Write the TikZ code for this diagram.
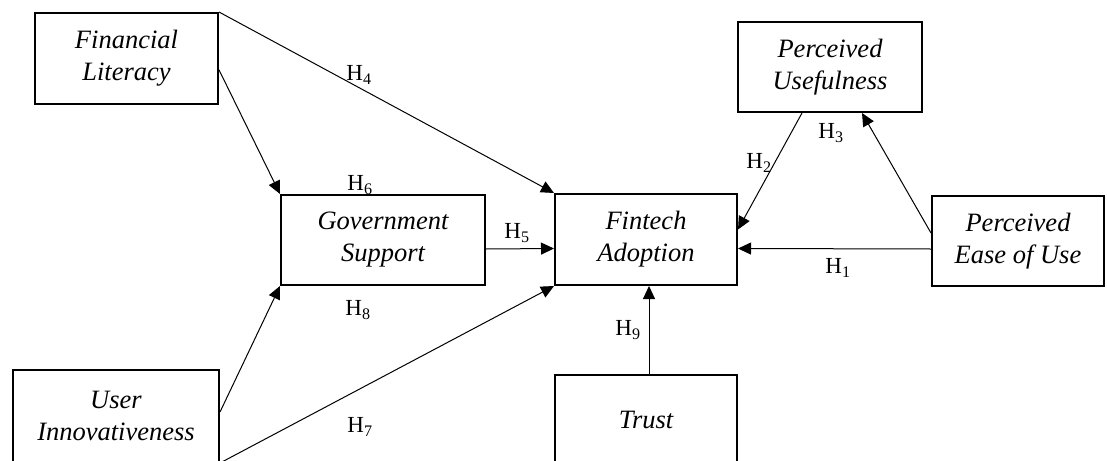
\documentclass[tikz,border=0pt]{standalone}
\usepackage{fontspec}
\setmainfont{Liberation Serif}
\usepackage{tikz}
\usetikzlibrary{positioning,arrows.meta,shapes}
\tikzset {
    style Box/.style={
        draw=black,
        line width=2pt,
        rectangle, % Set the shape as a rectangle
        align=center,
        font=\fontsize{26.5}{32}\selectfont\itshape,
        inner sep=0pt,
    },
    style Hyp/.style={
        inner sep=0pt,
        font=\fontsize{23}{26}\selectfont,
    },
    style Arrow/.style={
        line width=1pt,
        -{Triangle[length=13pt,width=12pt]},
    },
}

\begin{document}
\begin{tikzpicture}[x=1pt, y=1pt]
        \clip (0,0) rectangle (1107,-460);

        \node[style Box, minimum width=183, minimum height=91] at (126.5,-58.5) (lit) {Financial\\Literacy};
        \node[style Box, minimum width=204, minimum height=90] at (383,-240) (gov) {Government\\Support};
        \node[style Box, minimum width=182, minimum height=91] at (646,-239.5) (fin) {Fintech\\Adoption};
        \node[style Box, minimum width=184, minimum height=90] at (830,-67) (use) {Perceived\\Usefulness};
        \node[style Box, minimum width=172, minimum height=90] at (1018,-241) (ease) {Perceived\\Ease of Use};
        \node[style Box, minimum width=206, minimum height=92] at (116,-416) (inno) {User\\Innovativeness};
        \node[style Box, minimum width=182, minimum height=90] at (646,-420) (trust) {Trust};

        % hypotheses
        \node[style Hyp] at (359,-75) (h4) {H\textsubscript{4}};
        \node[style Hyp] at (360,-185) (h6) {H\textsubscript{6}};
        \node[style Hyp] at (517,-233) (h5) {H\textsubscript{5}};
        \node[style Hyp] at (358,-310) (h8) {H\textsubscript{8}};
        \node[style Hyp] at (360,-427) (h7) {H\textsubscript{7}};
        \node[style Hyp] at (628,-330) (h9) {H\textsubscript{9}};
        \node[style Hyp] at (759,-163) (h2) {H\textsubscript{2}};
        \node[style Hyp] at (831,-133) (h3) {H\textsubscript{3}};
        \node[style Hyp] at (838,-268) (h1) {H\textsubscript{1}};

        \draw[style Arrow] (lit.-7) -- (gov.north west);
        \draw[style Arrow] (lit.north east) -- (fin.north west);
        \draw[style Arrow] ([yshift=-9]gov.east) -- ([yshift=-9]fin.west);
        \draw[style Arrow] ([xshift=-28]use.south) -- ([yshift=10]fin.east);
        \draw[style Arrow] ([yshift=8]ease.west) -- ([xshift=32]use.south);
        \draw[style Arrow] ([yshift=-8]ease.west) -- ([yshift=-9]fin.east);
        \draw[style Arrow] ([yshift=4]inno.east) -- (gov.south west);
        \draw[style Arrow] (inno.south east) -- (fin.south west);
        \draw[style Arrow] ([xshift=3]trust.north) -- ([xshift=3]fin.south);
    \end{tikzpicture}
\end{document}
